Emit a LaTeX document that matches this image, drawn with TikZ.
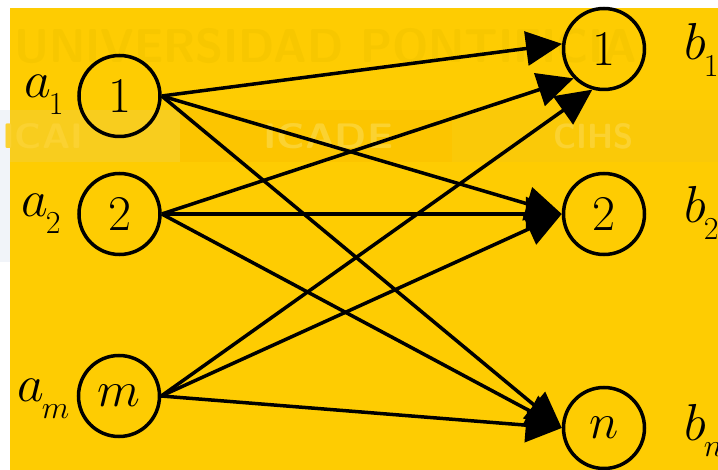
\RequirePackage{fix-cm}
\documentclass[tikz,border=0pt]{standalone}
\usepackage{graphicx}
\usetikzlibrary{arrows.meta}

\definecolor{bgyellow}{HTML}{FECC02}
\definecolor{markdark}{HTML}{F7C700}
\definecolor{bandleft}{HTML}{F8CD1E}
\definecolor{bandmid}{HTML}{FCC500}
\definecolor{bandright}{HTML}{FAC908}
\definecolor{bandtext}{HTML}{FBD231}
\definecolor{margintint}{HTML}{F1F4F9}

% subscript at a fixed small size, dropped below the baseline
\newcommand{\dsub}[1]{_{\kern-2pt\lower9pt\hbox{\fontsize{32}{34}\selectfont$#1$}}}

\tikzset{
  vertex/.style={circle, draw, line width=3.5pt, minimum size=81pt, inner sep=0pt,
                 font=\fontsize{50}{60}\selectfont},
  vlabel/.style={anchor=base west, inner sep=0pt, font=\fontsize{52}{62}\selectfont},
  edge/.style={line width=3.5pt, -{Triangle[length=36pt,width=34pt]}},
  wmark/.style={inner sep=0pt, font=\sffamily\bfseries},
}

\begin{document}
\begin{tikzpicture}[x=1pt,y=-1pt]
  \useasboundingbox (0,0) rectangle (718,470);
  % page and yellow panel
  \fill[white] (0,0) rectangle (718,470);
  \fill[margintint] (0,110) rectangle (10,262);
  \fill[bgyellow] (10,8) rectangle (718,470);

  % faint background lettering
  \fill[bandleft] (10,110) rectangle (180,162);
  \fill[bandmid] (180,110) rectangle (452,162);
  \fill[bandright] (452,110) rectangle (718,162);
  \node[wmark, text=markdark, anchor=north west] (wm) at (14,28)
    {\resizebox{623pt}{34pt}{UNIVERSIDAD PONTIFICIA}};
  \node[wmark, text=bandtext, anchor=north west] (wicai) at (2,123)
    {\resizebox{81pt}{25pt}{ICAI}};
  \node[wmark, text=bandtext, anchor=north west] (wicade) at (263,123)
    {\resizebox{130pt}{25pt}{ICADE}};
  \node[wmark, text=bandtext, anchor=north west] (wcihs) at (553,123)
    {\resizebox{80pt}{25pt}{CIHS}};

  % vertices
  \node[vertex] (a1) at (119.5,96)  {$1$};
  \node[vertex] (a2) at (119.5,214) {$2$};
  \node[vertex] (am) at (119,396)   {$m$};
  \node[vertex] (b1) at (604,49)    {$1$};
  \node[vertex] (b2) at (604,214)   {$2$};
  \node[vertex] (bn) at (604,428)   {$n$};

  % vertex labels
  \node[vlabel] (la1) at (24,98)  {$a\dsub{1}$};
  \node[vlabel] (la2) at (21,217) {$a\dsub{2}$};
  \node[vlabel] (lam) at (17,402) {$a\dsub{m}$};
  \node[vlabel] (lb1) at (684,60)  {$b\dsub{1}$};
  \node[vlabel] (lb2) at (684,223) {$b\dsub{2}$};
  \node[vlabel] (lbn) at (684,440) {$b\dsub{n}$};

  % edges
  \draw[edge] (a1.east) -- (b1.173);
  \draw[edge] (a1.east) -- (b2.west);
  \draw[edge] (a1.east) -- (bn.west);
  \draw[edge] (a2.east) -- (b1.224);
  \draw[edge] (a2.east) -- (b2.west);
  \draw[edge] (a2.east) -- (bn.west);
  \draw[edge] (am.east) -- (b1.254);
  \draw[edge] (am.east) -- (b2.west);
  \draw[edge] (am.east) -- (bn.west);
\end{tikzpicture}
\end{document}
